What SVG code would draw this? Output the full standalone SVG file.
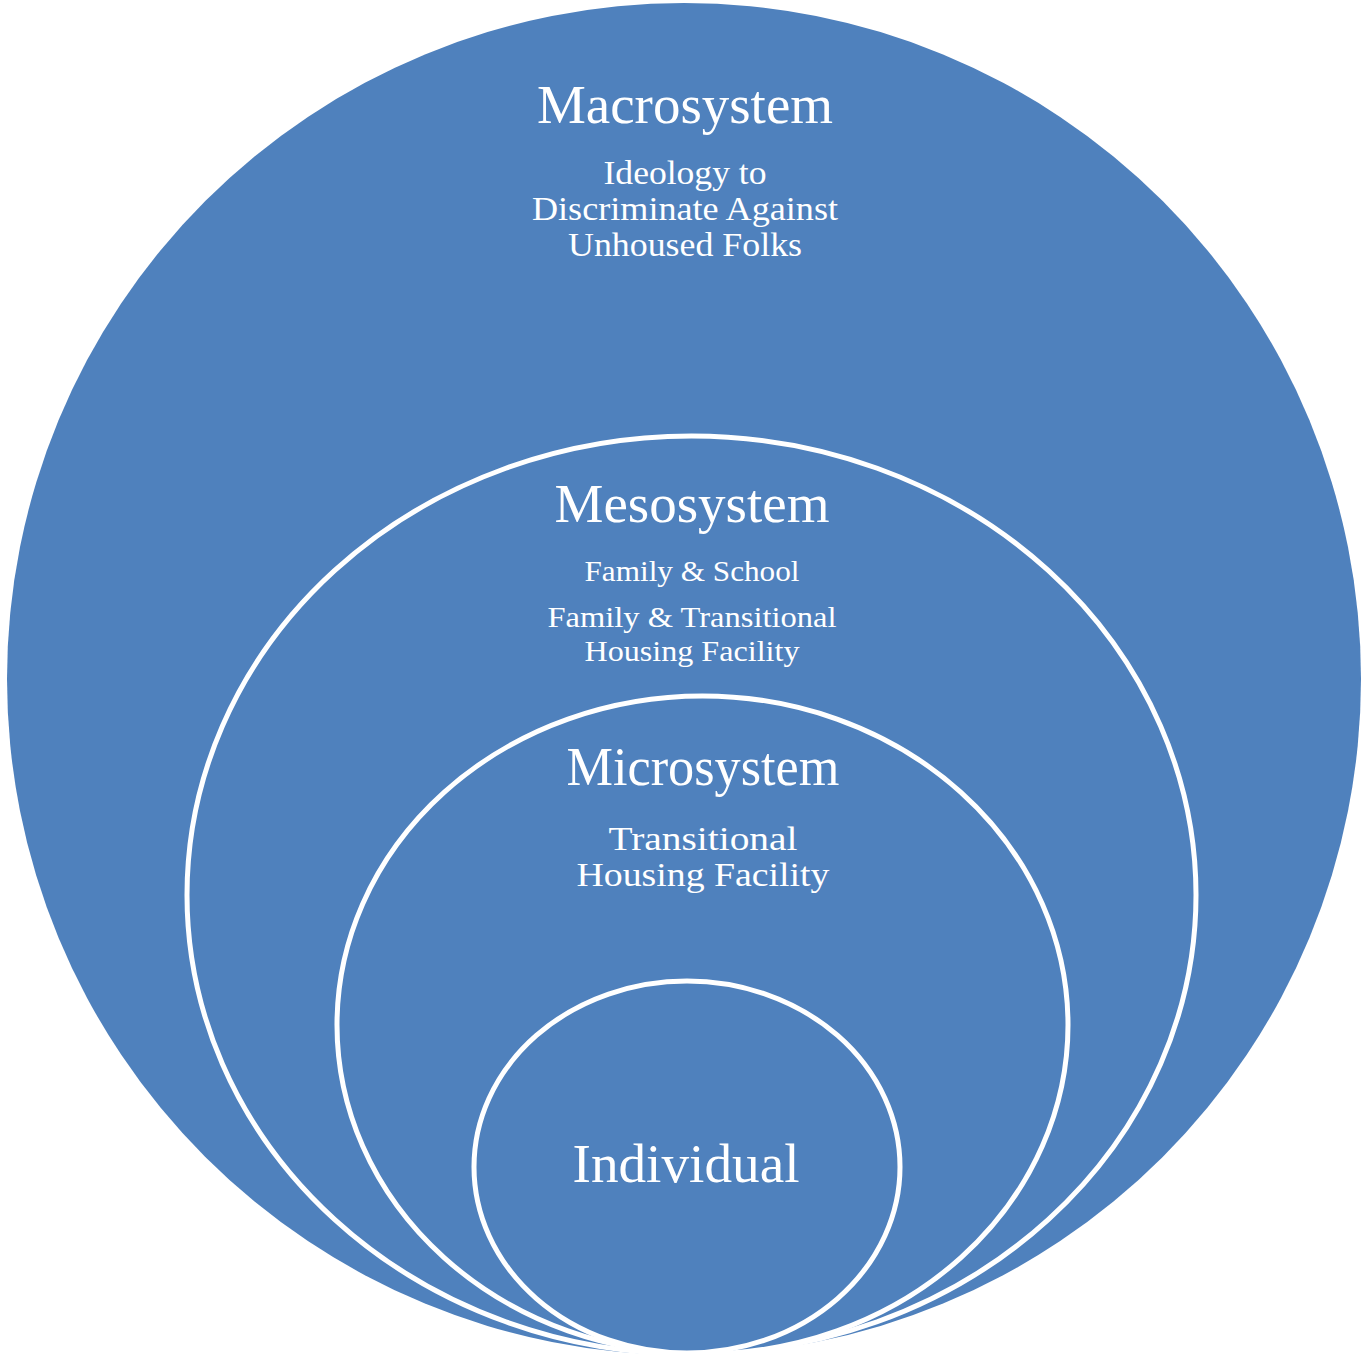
<svg xmlns="http://www.w3.org/2000/svg" width="1362" height="1357" viewBox="0 0 1362 1357">
<style>
.ring{fill:#4F81BD;stroke:#FFFFFF;stroke-width:5}
.t{font-family:"Liberation Serif","Times New Roman",serif;fill:#FFFFFF;text-anchor:middle}
.h{font-size:54px}
</style>
<rect width="1362" height="1357" fill="#FFFFFF"/>
<g id="macrosystem">
<ellipse cx="684" cy="679" rx="677" ry="676" fill="#4F81BD"/>
<text class="t h" x="685" y="123" textLength="296" lengthAdjust="spacingAndGlyphs">Macrosystem</text>
<text class="t" font-size="33" x="685" y="184" textLength="163" lengthAdjust="spacingAndGlyphs">Ideology to</text>
<text class="t" font-size="33" x="685" y="220" textLength="306" lengthAdjust="spacingAndGlyphs">Discriminate Against</text>
<text class="t" font-size="33" x="685" y="256" textLength="234" lengthAdjust="spacingAndGlyphs">Unhoused Folks</text>
</g>
<g id="mesosystem">
<ellipse class="ring" cx="691.5" cy="895" rx="504.5" ry="459"/>
<text class="t h" x="692" y="522" textLength="275" lengthAdjust="spacingAndGlyphs">Mesosystem</text>
<text class="t" font-size="30" x="692" y="581" textLength="215" lengthAdjust="spacingAndGlyphs">Family &amp; School</text>
<text class="t" font-size="30" x="692" y="627" textLength="289" lengthAdjust="spacingAndGlyphs">Family &amp; Transitional</text>
<text class="t" font-size="30" x="692" y="661" textLength="215" lengthAdjust="spacingAndGlyphs">Housing Facility</text>
</g>
<g id="microsystem">
<ellipse class="ring" cx="702.5" cy="1025" rx="365.5" ry="329"/>
<text class="t h" x="703" y="785" textLength="273" lengthAdjust="spacingAndGlyphs">Microsystem</text>
<text class="t" font-size="34" x="703" y="850" textLength="189" lengthAdjust="spacingAndGlyphs">Transitional</text>
<text class="t" font-size="34" x="703" y="886" textLength="253" lengthAdjust="spacingAndGlyphs">Housing Facility</text>
</g>
<g id="individual">
<ellipse class="ring" cx="687" cy="1167" rx="213" ry="186"/>
<text class="t h" x="686" y="1182" textLength="227" lengthAdjust="spacingAndGlyphs">Individual</text>
</g>
<g id="connectors"></g>
</svg>
